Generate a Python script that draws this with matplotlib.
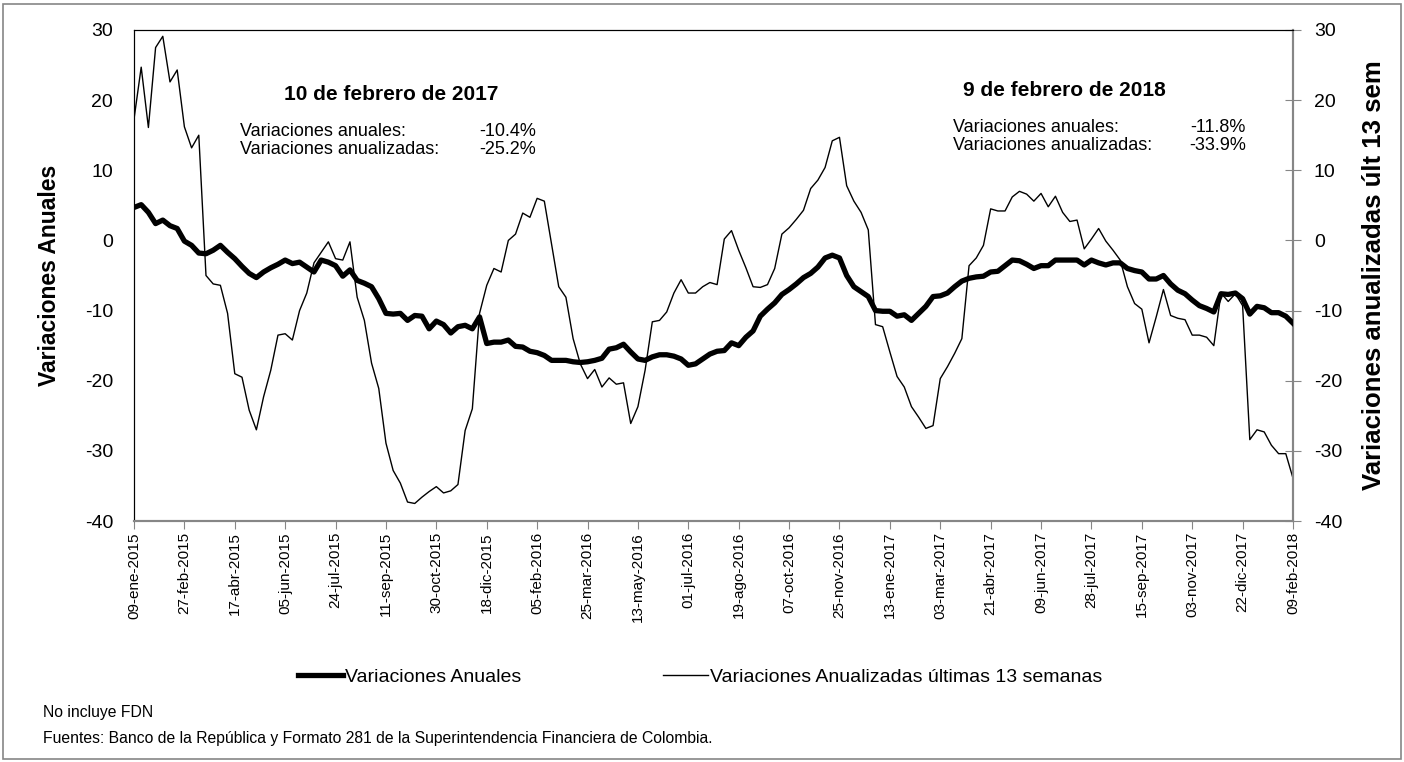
"""Variaciones anuales y anualizadas (ultimas 13 semanas), semanal 2015-2018."""

import matplotlib

matplotlib.use("Agg")
import matplotlib.pyplot as plt
from matplotlib.lines import Line2D
from matplotlib.patches import Rectangle

plt.rcParams["font.family"] = ["Liberation Sans", "DejaVu Sans"]
plt.rcParams["axes.unicode_minus"] = False

# weekly observations, 09-ene-2015 .. 09-feb-2018
anuales = [
    4.7, 5.1, 4.0, 2.4, 2.9, 2.1, 1.7, -0.1, -0.7, -1.8,
    -1.9, -1.4, -0.7, -1.7, -2.6, -3.7, -4.7, -5.3, -4.5, -3.9,
    -3.4, -2.8, -3.3, -3.1, -3.8, -4.5, -2.8, -3.1, -3.6, -5.1,
    -4.2, -5.7, -6.1, -6.6, -8.3, -10.4, -10.5, -10.4, -11.4, -10.7,
    -10.8, -12.6, -11.5, -12.0, -13.2, -12.3, -12.1, -12.6, -10.9, -14.7,
    -14.5, -14.5, -14.2, -15.1, -15.2, -15.8, -16.0, -16.4, -17.1, -17.1,
    -17.1, -17.3, -17.4, -17.3, -17.1, -16.8, -15.5, -15.3, -14.8, -15.9,
    -16.9, -17.1, -16.6, -16.3, -16.3, -16.5, -16.9, -17.8, -17.6, -16.9,
    -16.2, -15.8, -15.7, -14.6, -15.0, -13.8, -12.9, -10.8, -9.8, -8.9,
    -7.7, -7.0, -6.2, -5.3, -4.7, -3.8, -2.5, -2.1, -2.5, -5.0,
    -6.6, -7.3, -8.0, -10.0, -10.1, -10.1, -10.8, -10.6, -11.4, -10.4,
    -9.4, -8.0, -7.9, -7.5, -6.6, -5.8, -5.4, -5.2, -5.1, -4.5,
    -4.4, -3.6, -2.8, -2.9, -3.4, -4.0, -3.6, -3.6, -2.8, -2.8,
    -2.8, -2.8, -3.5, -2.8, -3.2, -3.5, -3.2, -3.2, -4.0, -4.3,
    -4.5, -5.5, -5.5, -5.0, -6.2, -7.1, -7.6, -8.5, -9.3, -9.7,
    -10.2, -7.6, -7.7, -7.5, -8.3, -10.5, -9.4, -9.6, -10.3, -10.3,
    -10.8, -11.8,
]

anualizadas = [
    17.3, 24.7, 16.1, 27.5, 29.1, 22.6, 24.3, 16.2, 13.2, 15.0,
    -5.0, -6.2, -6.4, -10.4, -19.0, -19.5, -24.2, -27.0, -22.3, -18.5,
    -13.5, -13.3, -14.2, -10.0, -7.5, -3.2, -1.7, -0.2, -2.6, -2.8,
    -0.2, -8.1, -11.4, -17.5, -21.1, -28.9, -32.8, -34.6, -37.3, -37.5,
    -36.6, -35.8, -35.1, -36.0, -35.7, -34.8, -27.1, -24.0, -10.4, -6.4,
    -4.0, -4.5, 0.0, 0.9, 3.9, 3.3, 6.0, 5.6, -0.5, -6.6,
    -8.1, -14.0, -17.6, -19.7, -18.4, -20.9, -19.6, -20.5, -20.3, -26.1,
    -23.7, -18.5, -11.6, -11.4, -10.2, -7.5, -5.6, -7.5, -7.5, -6.6,
    -6.0, -6.3, 0.2, 1.4, -1.4, -3.9, -6.6, -6.7, -6.3, -4.0,
    0.9, 1.8, 3.0, 4.3, 7.4, 8.6, 10.4, 14.2, 14.7, 7.8,
    5.6, 4.0, 1.5, -12.0, -12.3, -15.9, -19.4, -20.9, -23.7, -25.2,
    -26.8, -26.4, -19.7, -18.0, -16.1, -14.0, -3.6, -2.5, -0.7, 4.5,
    4.2, 4.2, 6.2, 7.0, 6.6, 5.6, 6.7, 4.8, 6.3, 4.0,
    2.7, 2.9, -1.2, 0.2, 1.7, -0.1, -1.4, -2.8, -6.6, -9.0,
    -9.8, -14.6, -10.9, -7.0, -10.7, -11.1, -11.3, -13.5, -13.5, -13.8,
    -15.0, -7.5, -8.7, -7.6, -9.3, -28.4, -27.0, -27.3, -29.2, -30.4,
    -30.4, -33.9,
]

# one label every 7 weeks
fechas = [
    "09-ene-2015", "27-feb-2015", "17-abr-2015", "05-jun-2015", "24-jul-2015",
    "11-sep-2015", "30-oct-2015", "18-dic-2015", "05-feb-2016", "25-mar-2016",
    "13-may-2016", "01-jul-2016", "19-ago-2016", "07-oct-2016", "25-nov-2016",
    "13-ene-2017", "03-mar-2017", "21-abr-2017", "09-jun-2017", "28-jul-2017",
    "15-sep-2017", "03-nov-2017", "22-dic-2017", "09-feb-2018",
]
step = 7

yticks = [30, 20, 10, 0, -10, -20, -30, -40]


def main():
    gray = "#868686"
    fig = plt.figure(figsize=(14.04, 7.62), dpi=100)
    ax = fig.add_axes([134 / 1404, 1 - 521 / 762, (1293 - 134) / 1404, (521 - 30) / 762])
    ax2 = ax.twinx()

    weeks = list(range(len(anuales)))
    ax.plot(weeks, anuales, color="black", lw=3.8, solid_joinstyle="round", zorder=3)
    ax2.plot(weeks, anualizadas, color="black", lw=1.0)

    for a in (ax, ax2):
        a.set_ylim(-40, 30)
        a.set_yticks(yticks)
        a.set_xlim(0, len(anuales) - 1)
    ax.set_zorder(ax2.get_zorder() + 1)
    ax.patch.set_visible(False)

    ax.set_xticks(list(range(0, len(anuales), step)))
    ax.set_xticklabels(fechas, rotation=90, fontsize=11)
    ax.tick_params(axis="x", direction="out", length=6, color=gray, pad=2)
    ax.tick_params(axis="y", length=0, pad=15, labelsize=14)
    ax2.tick_params(axis="y", direction="inout", length=12, color=gray, pad=9, labelsize=14)

    for s in ("left", "top"):
        ax.spines[s].set_color("black")
        ax2.spines[s].set_color("black")
    for a in (ax, ax2):
        a.spines["bottom"].set_color(gray)
        a.spines["right"].set_color(gray)
        a.spines["bottom"].set_linewidth(1.5)
        a.spines["right"].set_linewidth(1.5)

    ax.set_ylabel("Variaciones Anuales", fontsize=16.5, fontweight="bold", labelpad=17)
    ax2.set_ylabel("Variaciones anualizadas últ 13 sem", fontsize=18.5,
                   fontweight="bold", labelpad=14)

    # annotations
    def fx(px):
        return px / 1404

    def fy(py):
        return 1 - py / 762

    fig.text(fx(391), fy(95), "10 de febrero de 2017", fontsize=15,
             fontweight="bold", ha="center", va="center")
    fig.text(fx(240), fy(131), "Variaciones anuales:", fontsize=13, va="center")
    fig.text(fx(240), fy(150), "Variaciones anualizadas:", fontsize=13, va="center")
    fig.text(fx(536), fy(131), f"{anuales[109]:.1f}%", fontsize=13, va="center", ha="right")
    fig.text(fx(536), fy(150), f"{anualizadas[109]:.1f}%", fontsize=13, va="center", ha="right")

    fig.text(fx(1064), fy(90), "9 de febrero de 2018", fontsize=15,
             fontweight="bold", ha="center", va="center")
    fig.text(fx(953), fy(128), "Variaciones anuales:", fontsize=13, va="center")
    fig.text(fx(953), fy(146), "Variaciones anualizadas:", fontsize=13, va="center")
    fig.text(fx(1246), fy(128), f"{anuales[-1]:.1f}%", fontsize=13, va="center", ha="right")
    fig.text(fx(1246), fy(146), f"{anualizadas[-1]:.1f}%", fontsize=13, va="center", ha="right")

    handles = [
        Line2D([], [], color="black", lw=3.8),
        Line2D([], [], color="black", lw=1.0),
    ]
    fig.legend(handles, ["Variaciones Anuales", "Variaciones Anualizadas últimas 13 semanas"],
               loc="center", bbox_to_anchor=(fx(700), fy(677)), ncol=2, frameon=False,
               fontsize=14, handlelength=2.3, handletextpad=0.1, columnspacing=7.3)

    fig.text(fx(43), fy(712), "No incluye FDN", fontsize=11.3, va="center")
    fig.text(fx(43), fy(739),
             "Fuentes: Banco de la República y Formato 281 de la Superintendencia "
             "Financiera de Colombia.", fontsize=11.3, va="center")

    fig.patches.append(Rectangle((fx(3), fy(759)), fx(1398), 755 / 762, transform=fig.transFigure,
                                 fill=False, edgecolor=gray, lw=1.2))

    fig.savefig("out.png", dpi=100)


if __name__ == "__main__":
    main()
